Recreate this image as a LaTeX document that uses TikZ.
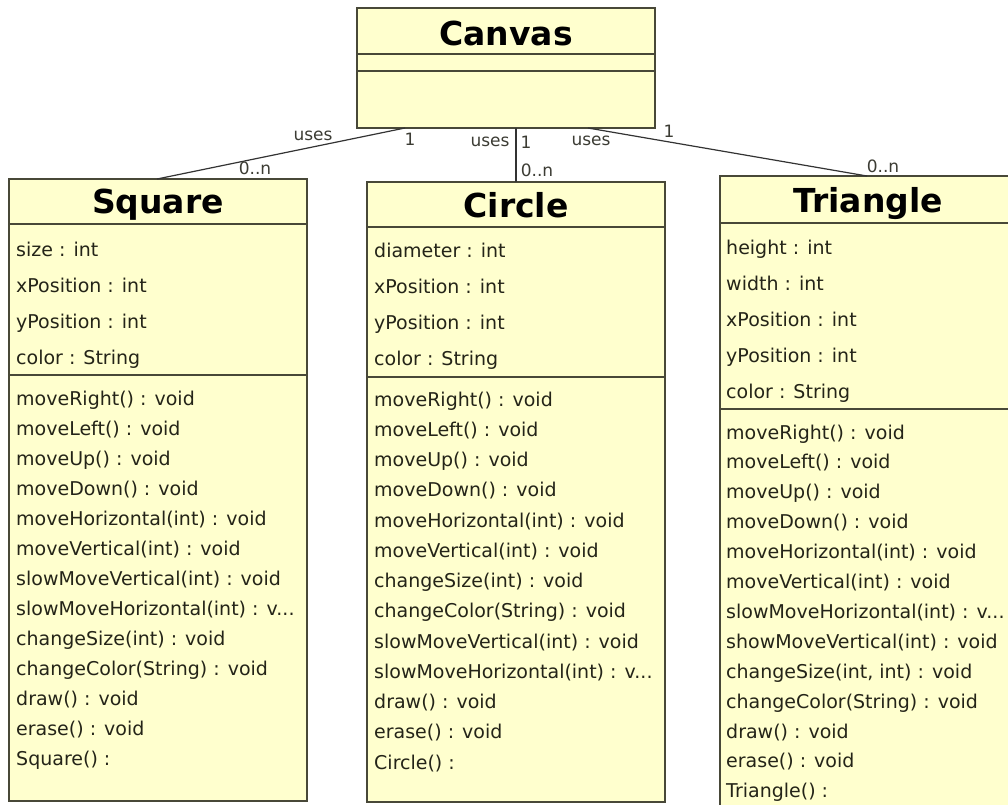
\documentclass[tikz,border=0pt]{standalone}
\usepackage{fontspec}
\setmainfont{DejaVu Sans}
\definecolor{boxfill}{RGB}{255,255,206}
\definecolor{boxline}{RGB}{72,72,56}
\definecolor{txt}{RGB}{36,36,24}
\definecolor{lbltxt}{RGB}{60,60,52}
\newcommand{\mytrunc}{v...}
\tikzset{
  classbox/.style={draw=boxline, fill=boxfill, line width=1.5pt, rectangle, inner sep=0pt, outer sep=0pt, anchor=north west},
  classtitle/.style={font=\bfseries\fontsize{33}{33}\selectfont, text=black, anchor=base, inner sep=0pt},
  member/.style={font=\fontsize{19}{19}\selectfont, text=txt, anchor=base west, inner sep=0pt},
  lbl/.style={font=\fontsize{17}{17}\selectfont, text=lbltxt, inner sep=0pt},
  sepline/.style={draw=boxline, line width=1.5pt},
  conn/.style={draw=black!80, line width=1.2pt}
}
\begin{document}
\begin{tikzpicture}[x=1pt,y=-1pt]
\clip (0,0) rectangle (1008,804);
\fill[white] (0,0) rectangle (1008,804);

% Classes
\node[classbox, minimum width=298pt, minimum height=120pt] (canvas) at (357,8) {};
\node[classbox, minimum width=298pt, minimum height=622pt] (square) at (9,179) {};
\node[classbox, minimum width=298pt, minimum height=620pt] (circle) at (367,182) {};
\node[classbox, minimum width=300pt, minimum height=640pt] (triangle) at (720,176) {};

% separators
\draw[sepline] ([yshift=-46pt]canvas.north west) -- ([yshift=-46pt]canvas.north east);
\draw[sepline] ([yshift=-63pt]canvas.north west) -- ([yshift=-63pt]canvas.north east);
\draw[sepline] ([yshift=-45pt]square.north west) -- ([yshift=-45pt]square.north east);
\draw[sepline] ([yshift=-196pt]square.north west) -- ([yshift=-196pt]square.north east);
\draw[sepline] ([yshift=-45pt]circle.north west) -- ([yshift=-45pt]circle.north east);
\draw[sepline] ([yshift=-195pt]circle.north west) -- ([yshift=-195pt]circle.north east);
\draw[sepline] ([yshift=-47pt]triangle.north west) -- ([yshift=-47pt]triangle.north east);
\draw[sepline] ([yshift=-233pt]triangle.north west) -- ([yshift=-233pt]triangle.north east);

% titles
\node[classtitle] (canvas-t) at (506,45) {Canvas};
\node[classtitle] (square-t) at (158,213) {Square};
\node[classtitle] (circle-t) at (516,217) {Circle};
\node[classtitle] (triangle-t) at (868,212) {Triangle};

% Square members
\foreach \t [count=\i from 0] in {size : int, xPosition : int, yPosition : int, color : String}
  \node[member] (sq-a\i) at (16,256+36*\i) {\t};
\foreach \t [count=\i from 0] in {moveRight() : void, moveLeft() : void, moveUp() : void, moveDown() : void,
  moveHorizontal(int) : void, moveVertical(int) : void, slowMoveVertical(int) : void,
  slowMoveHorizontal(int) : \mytrunc, changeSize(int) : void, changeColor(String) : void,
  draw() : void, erase() : void, Square() :}
  \node[member] (sq-m\i) at (16,405+30*\i) {\t};

% Circle members
\foreach \t [count=\i from 0] in {diameter : int, xPosition : int, yPosition : int, color : String}
  \node[member] (ci-a\i) at (374,257+36*\i) {\t};
\foreach \t [count=\i from 0] in {moveRight() : void, moveLeft() : void, moveUp() : void, moveDown() : void,
  moveHorizontal(int) : void, moveVertical(int) : void, changeSize(int) : void,
  changeColor(String) : void, slowMoveVertical(int) : void, slowMoveHorizontal(int) : \mytrunc,
  draw() : void, erase() : void, Circle() :}
  \node[member] (ci-m\i) at (374,406+30.25*\i) {\t};

% Triangle members
\foreach \t [count=\i from 0] in {height : int, width : int, xPosition : int, yPosition : int, color : String}
  \node[member] (tr-a\i) at (726,254+36*\i) {\t};
\foreach \t [count=\i from 0] in {moveRight() : void, moveLeft() : void, moveUp() : void, moveDown() : void,
  moveHorizontal(int) : void, moveVertical(int) : void, slowMoveHorizontal(int) : \mytrunc,
  showMoveVertical(int) : void, {changeSize(int, int) : void}, changeColor(String) : void,
  draw() : void, erase() : void, Triangle() :}
  \node[member] (tr-m\i) at (726,439+29.9*\i) {\t};

% connectors
\draw[conn] ([xshift=48pt]canvas.south west) -- ([xshift=148pt]square.north west);
\draw[conn] (circle.north |- canvas.south) -- (circle.north);
\draw[conn] ([xshift=-67pt]canvas.south east) -- ([xshift=147pt]triangle.north west);

% labels
\node[lbl] (sq-uses) at (313,136) {uses};
\node[lbl] (sq-one) at (410,139) {1};
\node[lbl] (sq-many) at (255,168) {0..n};
\node[lbl] (ci-uses) at (490,142) {uses};
\node[lbl] (ci-one) at (526,142) {1};
\node[lbl] (ci-many) at (537,170) {0..n};
\node[lbl] (tr-uses) at (591,141) {uses};
\node[lbl] (tr-one) at (669,131) {1};
\node[lbl] (tr-many) at (883,166) {0..n};
\end{tikzpicture}
\end{document}
